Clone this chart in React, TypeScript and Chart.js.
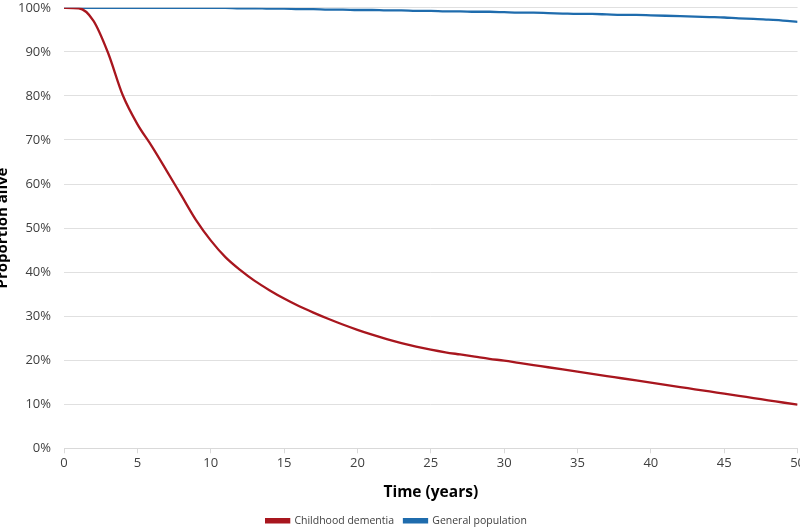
import React, { useEffect, useRef } from "react";
import { Chart, registerables } from "chart.js";

Chart.register(...registerables);

const years: number[] = Array.from({ length: 51 }, (_, i) => i);

const childhoodDementia: number[] = [
  100, 99.9, 97.1, 89.8, 80.2, 73.6, 68.5, 63.0, 57.4, 51.8,
  47.2, 43.4, 40.5, 38.0, 35.9, 34.0, 32.3, 30.8, 29.4, 28.1,
  26.9, 25.8, 24.8, 23.9, 23.1, 22.4, 21.8, 21.3, 20.8, 20.3,
  19.9, 19.4, 18.9, 18.4, 17.9, 17.4, 16.9, 16.4, 15.9, 15.4,
  14.9, 14.4, 13.9, 13.4, 12.9, 12.4, 11.9, 11.4, 10.9, 10.4,
  9.9,
];

const generalPopulation: number[] = [
  100, 100, 100, 100, 100, 100, 100, 100, 100, 100,
  100, 100, 99.9, 99.9, 99.8, 99.8, 99.7, 99.7, 99.6, 99.6,
  99.5, 99.5, 99.4, 99.4, 99.3, 99.3, 99.2, 99.2, 99.1, 99.1,
  99.0, 98.9, 98.9, 98.8, 98.7, 98.6, 98.6, 98.5, 98.4, 98.4,
  98.3, 98.2, 98.1, 98.0, 97.9, 97.8, 97.6, 97.5, 97.3, 97.1,
  96.8,
];

const seriesNames: string[] = ["Childhood dementia", "General population"];
const xTitle = "Time (years)";
const yTitle = "Proportion alive";

const RED = "#A8161E";
const BLUE = "#1F6CAD";
const FONT = "'Open Sans', 'Noto Sans', sans-serif";

export default function App() {
  const ref = useRef<HTMLCanvasElement | null>(null);

  useEffect(() => {
    if (!ref.current) return;
    const chart = new Chart(ref.current, {
      type: "line",
      data: {
        datasets: [
          {
            label: seriesNames[0],
            data: years.map((x, i) => ({ x, y: childhoodDementia[i] })),
            borderColor: RED,
            backgroundColor: RED,
            borderWidth: 2.3,
            pointRadius: 0,
            cubicInterpolationMode: "monotone",
          },
          {
            label: seriesNames[1],
            data: years.map((x, i) => ({ x, y: generalPopulation[i] })),
            borderColor: BLUE,
            backgroundColor: BLUE,
            borderWidth: 2.3,
            pointRadius: 0,
            cubicInterpolationMode: "monotone",
          },
        ],
      },
      options: {
        animation: false,
        responsive: false,
        maintainAspectRatio: false,
        layout: { padding: { top: 0, right: 0, bottom: 2, left: 0 } },
        plugins: {
          legend: {
            position: "bottom",
            labels: {
              boxWidth: 23,
              boxHeight: 3,
              color: "#404040",
              font: { family: FONT, size: 10.5 },
              padding: 10,
            },
          },
          tooltip: { enabled: false },
        },
        scales: {
          x: {
            type: "linear",
            min: 0,
            max: 50,
            ticks: {
              stepSize: 5,
              color: "#404040",
              font: { family: FONT, size: 13 },
              padding: 2,
              maxRotation: 0,
            },
            grid: {
              drawOnChartArea: false,
              drawTicks: true,
              tickLength: 5,
              tickColor: "#d9d9d9",
            },
            border: { color: "#d9d9d9", width: 1 },
            title: {
              display: true,
              text: xTitle,
              color: "#000",
              font: { family: FONT, size: 15.5, weight: "bold" },
              padding: { top: 10, bottom: 4 },
            },
          },
          y: {
            min: 0,
            max: 100,
            afterFit: (s: any) => {
              s.width = 78;
            },
            ticks: {
              stepSize: 10,
              color: "#404040",
              font: { family: FONT, size: 13 },
              padding: 13,
              callback: (v: any) => `${v}%`,
            },
            grid: {
              color: "#e0e0e0",
              drawTicks: false,
            },
            border: { display: false },
            title: {
              display: true,
              text: yTitle,
              color: "#000",
              font: { family: FONT, size: 15, weight: "bold" },
              padding: { top: 8, bottom: 0 },
            },
          },
        },
      },
    });
    return () => chart.destroy();
  }, []);

  return (
    <div
      style={{
        position: "fixed",
        left: 0,
        top: 0,
        width: 800,
        height: 530,
        overflow: "hidden",
        background: "#fff",
      }}
    >
      <canvas
        ref={ref}
        width={821}
        height={551}
        style={{ position: "absolute", left: -14, top: -13, width: 821, height: 551 }}
      />
    </div>
  );
}
